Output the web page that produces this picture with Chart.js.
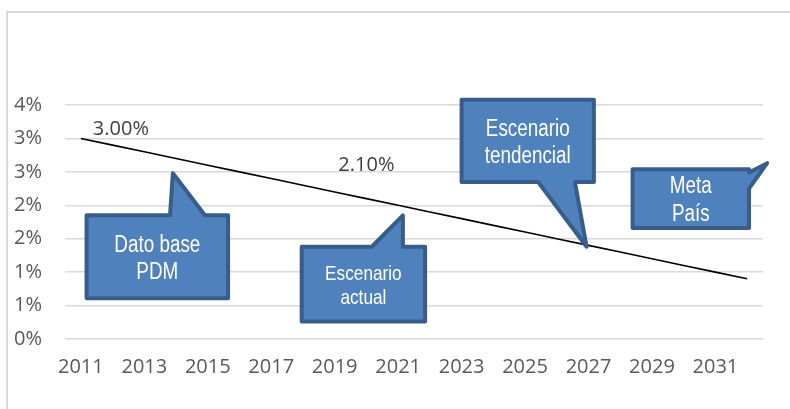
<!DOCTYPE html>
<html>
<head>
<meta charset="utf-8">
<script src="https://cdn.jsdelivr.net/npm/chart.js@4.4.0/dist/chart.umd.min.js"></script>
<style>
  body { margin: 0; background: #fff; }
  #wrap { width: 790px; height: 409px; }
</style>
</head>
<body>
<div id="wrap"><canvas id="grafico" width="790" height="409"></canvas></div>
<script>
// Datos del gráfico
const anios = ['2011','2012','2013','2014','2015','2016','2017','2018','2019','2020','2021',
               '2022','2023','2024','2025','2026','2027','2028','2029','2030','2031','2032'];
const tasa = [3.0, 2.9, 2.8, 2.7, 2.6, 2.5, 2.4, 2.3, 2.2, 2.1, 2.0,
              1.9, 1.8, 1.7, 1.6, 1.5, 1.4, 1.3, 1.2, 1.1, 1.0, 0.9];
const etiquetasIdx = [0, 9];      // puntos con etiqueta de valor
const yTicks = [0, 0.5, 1, 1.5, 2, 2.5, 3, 3.5];

// Llamadas (en unidades de los ejes: índice de categoría, valor %)
const llamadas = [
  { texto: ['Dato base', 'PDM'], size: 23, x0: 0.18, x1: 4.64, yTop: 1.85, yBot: 0.61,
    lado: 'top', base: [2.81, 3.91], punta: [2.90, 2.48] },
  { texto: ['Escenario', 'actual'], size: 21, x0: 6.96, x1: 10.85, yTop: 1.38, yBot: 0.26,
    lado: 'top', base: [9.17, 10.15], punta: [10.15, 1.85] },
  { texto: ['Escenario', 'tendencial'], size: 23, x0: 12.0, x1: 16.17, yTop: 3.58, yBot: 2.35,
    lado: 'bottom', base: [14.41, 15.57], punta: [15.94, 1.38] },
  { texto: ['Meta', 'País'], size: 23, x0: 17.39, x1: 21.06, yTop: 2.54, yBot: 1.66,
    lado: 'right', base: [2.49, 2.25], punta: [21.63, 2.63] }
];

const fuente = "'Open Sans', 'Noto Sans', sans-serif";

const marcoPlugin = {
  id: 'marco',
  beforeDraw(chart) {
    const c = chart.ctx;
    c.save();
    c.fillStyle = '#fff';
    c.fillRect(0, 0, chart.width, chart.height);
    c.strokeStyle = '#d9d9d9';
    c.lineWidth = 2;
    c.strokeRect(7, 12, 900, 500);
    c.restore();
  }
};

const llamadasPlugin = {
  id: 'llamadas',
  afterDatasetsDraw(chart) {
    const c = chart.ctx;
    const sx = chart.scales.x, sy = chart.scales.y;
    const px = v => sx.getPixelForValue(v);
    const py = v => sy.getPixelForValue(v);

    llamadas.forEach(l => {
      const L = px(l.x0), R = px(l.x1), T = py(l.yTop), B = py(l.yBot);
      const tip = [px(l.punta[0]), py(l.punta[1])];
      let pts;
      if (l.lado === 'top') {
        pts = [[L, T], [px(l.base[0]), T], tip, [px(l.base[1]), T], [R, T], [R, B], [L, B]];
      } else if (l.lado === 'bottom') {
        pts = [[L, T], [R, T], [R, B], [px(l.base[1]), B], tip, [px(l.base[0]), B], [L, B]];
      } else {
        pts = [[L, T], [R, T], [R, py(l.base[0])], tip, [R, py(l.base[1])], [R, B], [L, B]];
      }
      c.save();
      c.beginPath();
      pts.forEach((p, i) => i ? c.lineTo(p[0], p[1]) : c.moveTo(p[0], p[1]));
      c.closePath();
      c.fillStyle = '#4f81bd';
      c.fill();
      c.lineJoin = 'round';
      c.lineWidth = 4;
      c.strokeStyle = '#385d8a';
      c.stroke();

      // texto blanco, estrecho
      c.fillStyle = '#fff';
      c.font = l.size + "px 'Liberation Sans', Arial, sans-serif";
      c.textAlign = 'center';
      c.textBaseline = 'middle';
      const cx = (L + R) / 2, cy = (T + B) / 2 + 2;
      const lh = l.size * 1.18;
      l.texto.forEach((t, i) => {
        const y = cy + (i - (l.texto.length - 1) / 2) * lh;
        c.save();
        c.translate(cx, y);
        c.scale(0.82, 1);
        c.fillText(t, 0, 0);
        c.restore();
      });
      c.restore();
    });

    // etiquetas de valor
    const meta = chart.getDatasetMeta(0);
    c.save();
    c.font = '20px ' + fuente;
    c.fillStyle = '#404040';
    c.textAlign = 'center';
    c.textBaseline = 'middle';
    etiquetasIdx.forEach((idx, k) => {
      const p = meta.data[idx];
      const txt = tasa[idx].toFixed(2) + '%';
      if (k === 0) c.fillText(txt, p.x + 40, p.y - 9);
      else c.fillText(txt, p.x, p.y - 33);
    });
    c.restore();
  }
};

const ctx = document.getElementById('grafico').getContext('2d');
const grafico = new Chart(ctx, {
  type: 'line',
  data: {
    labels: anios,
    datasets: [{
      data: tasa,
      borderColor: '#000',
      borderWidth: 1.6,
      pointRadius: 0,
      tension: 0,
      fill: false
    }]
  },
  options: {
    responsive: false,
    animation: false,
    layout: { padding: { left: 0, top: 105, right: 27, bottom: 0 } },
    plugins: { legend: { display: false }, tooltip: { enabled: false } },
    scales: {
      x: {
        offset: true,
        grid: { display: false, drawTicks: false },
        border: { display: false },
        ticks: {
          autoSkip: false,
          maxRotation: 0,
          padding: 16,
          color: '#595959',
          font: { family: fuente, size: 20 },
          callback: function(v, i) { return i % 2 === 0 ? this.getLabelForValue(v) : ''; }
        },
        afterFit(s) { s.height = 70; }
      },
      y: {
        min: 0,
        max: 3.5,
        afterBuildTicks(s) { s.ticks = yTicks.map(v => ({ value: v })); },
        grid: { color: '#d9d9d9', lineWidth: 1.5, drawTicks: false },
        border: { display: false },
        ticks: {
          padding: 23,
          color: '#595959',
          font: { family: fuente, size: 20 },
          callback: v => Math.round(v) + '%'
        },
        afterFit(s) { s.width = 65; }
      }
    }
  },
  plugins: [marcoPlugin, llamadasPlugin]
});
</script>
</body>
</html>
